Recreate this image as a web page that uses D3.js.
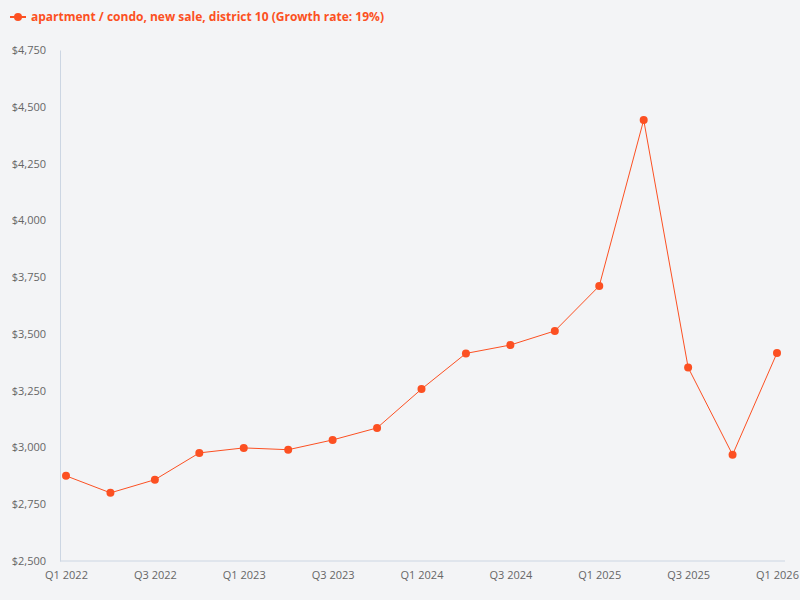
<!DOCTYPE html>
<html><head><meta charset="utf-8">
<script src="https://cdn.jsdelivr.net/npm/d3@7"></script>
<style>body{margin:0;background:#f3f4f6;font-family:"Open Sans",sans-serif}</style>
</head><body><svg id="c" width="800" height="600"></svg>
<script>
const quarters = ["Q1 2022","Q2 2022","Q3 2022","Q4 2022","Q1 2023","Q2 2023","Q3 2023","Q4 2023",
  "Q1 2024","Q2 2024","Q3 2024","Q4 2024","Q1 2025","Q2 2025","Q3 2025","Q4 2025","Q1 2026"];
const prices = [2875,2800,2858,2976,2998,2990,3033,3086,3257,3414,3451,3513,3711,4442,3352,2968,3416];
const tickLabels = ["Q1 2022","Q3 2022","Q1 2023","Q3 2023","Q1 2024","Q3 2024","Q1 2025","Q3 2025","Q1 2026"];
const yTicks = [2500,2750,3000,3250,3500,3750,4000,4250,4500,4750];
const color = "#fc5022";

const svg = d3.select("#c");
const x = d3.scalePoint().domain(quarters).range([66, 777]);
const y = d3.scaleLinear().domain([2500, 4750]).range([561, 50]);

svg.append("g").attr("transform","translate(60,0)")
  .call(d3.axisLeft(y).tickValues(yTicks).tickFormat(d => "$" + d3.format(",")(d)).tickSize(0).tickPadding(14))
  .call(g => g.select(".domain").attr("stroke","#ccd6e3"))
  .call(g => g.selectAll("text").attr("fill","#666").style("font-size","11px").style("font-family","Open Sans"));

svg.append("g").attr("transform","translate(0,561)")
  .call(d3.axisBottom(x).tickValues(tickLabels).tickSize(0).tickPadding(10))
  .call(g => g.select(".domain").attr("stroke","#ccd6e3").attr("d","M60,0H785"))
  .call(g => g.selectAll("text").attr("fill","#666").style("font-size","11px").style("font-family","Open Sans"));

svg.append("path").datum(prices)
  .attr("fill","none").attr("stroke",color).attr("stroke-width",1)
  .attr("d", d3.line().x((d,i) => x(quarters[i])).y(d => y(d)));

svg.selectAll("circle.pt").data(prices).enter().append("circle")
  .attr("class","pt").attr("r",4).attr("fill",color)
  .attr("cx",(d,i) => x(quarters[i])).attr("cy",d => y(d));

const lg = svg.append("g").attr("transform","translate(10,17)");
lg.append("line").attr("x1",0).attr("x2",16).attr("stroke",color).attr("stroke-width",2);
lg.append("circle").attr("cx",8).attr("r",4).attr("fill",color);
lg.append("text").attr("x",21).attr("dy","0.35em").attr("fill",color)
  .style("font-size","12px").style("font-weight","bold").style("font-family","Open Sans")
  .text("apartment / condo, new sale, district 10 (Growth rate: 19%)");
</script></body></html>
